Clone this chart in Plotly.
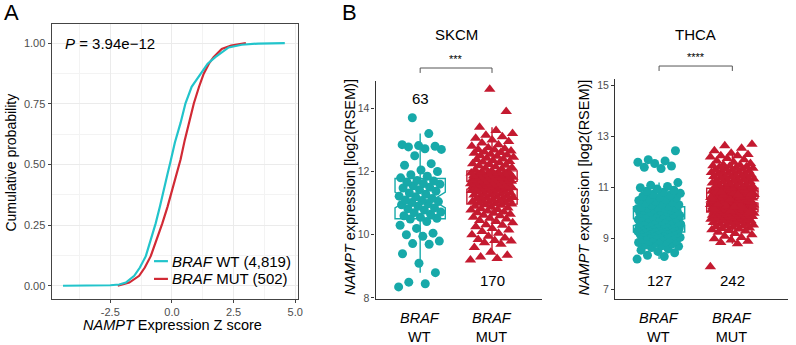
import plotly.graph_objects as go

# ---------------- Panel A: ECDF readings ----------------
wt_z = [-4.42, -3.0, -2.5, -2.14, -1.87, -1.53, -1.3, -1.06, -0.86, -0.66, -0.48, -0.32,
        -0.18, -0.05, 0.12, 0.35, 0.55, 0.8, 1.16, 1.45, 1.76, 2.3, 2.83, 3.5, 4.58]
wt_p = [0.0, 0.0, 0.002, 0.005, 0.013, 0.041, 0.075, 0.122, 0.185, 0.257, 0.33, 0.393,
        0.46, 0.515, 0.59, 0.671, 0.752, 0.82, 0.874, 0.915, 0.942, 0.982, 0.993, 0.998, 1.0]
mut_z = [-2.2, -2.0, -1.73, -1.33, -1.1, -0.86, -0.62, -0.39, -0.18, 0.01, 0.18, 0.35,
         0.52, 0.69, 0.89, 1.1, 1.29, 1.5, 1.69, 2.02, 2.4, 3.0]
mut_p = [0.0, 0.005, 0.013, 0.041, 0.075, 0.122, 0.19, 0.257, 0.325, 0.393, 0.45, 0.52,
         0.6, 0.671, 0.752, 0.82, 0.874, 0.915, 0.942, 0.976, 0.99, 1.0]
a_xticks = [-2.5, 0.0, 2.5, 5.0]
a_xticklabels = ["-2.5", "0.0", "2.5", "5.0"]
a_yticks = [0.0, 0.25, 0.5, 0.75, 1.0]
a_yticklabels = ["0.00", "0.25", "0.50", "0.75", "1.00"]
p_value = "3.94e\u221212"
legend_labels = ["<i>BRAF</i> WT (4,819)", "<i>BRAF</i> MUT (502)"]

# ---------------- Panel B: expression values ----------------
categories = ["WT", "MUT"]
skcm_wt = [8.35, 8.45, 8.5, 8.8, 9.1, 9.4, 9.7, 9.72, 9.8, 9.95, 10.0, 10.05, 10.2, 10.3, 10.42,
           10.5, 10.52, 10.55, 10.6, 10.65, 10.7, 10.72, 10.78, 10.82, 10.85, 10.9, 10.95, 10.98, 11.02, 11.05, 11.08,
           11.1, 11.15, 11.2, 11.22, 11.28, 11.32, 11.38, 11.42, 11.48, 11.5, 11.55, 11.6, 11.62, 11.66, 11.7, 11.72,
           11.8, 11.85, 11.9, 12.0, 12.05, 12.2, 12.25, 12.5, 12.7, 12.72, 12.78, 12.8, 12.82, 12.85, 13.2, 13.7]
skcm_mut = [9.2, 9.25, 9.3, 9.35, 9.45, 9.6, 9.7, 9.75, 9.8, 9.82, 9.85, 9.9, 9.95, 10.0, 10.05,
            10.1, 10.15, 10.2, 10.25, 10.3, 10.32, 10.38, 10.42, 10.45, 10.5, 10.52, 10.55, 10.6, 10.62, 10.65,
            10.68, 10.7, 10.72, 10.75, 10.78, 10.8, 10.82, 10.85, 10.88, 10.9, 10.93, 10.95,
            10.97, 10.98, 11.0, 11.01, 11.03, 11.05, 11.06, 11.08, 11.1, 11.11, 11.13, 11.15, 11.16, 11.18, 11.2,
            11.21, 11.23, 11.25, 11.26, 11.28, 11.3, 11.31, 11.33, 11.35, 11.36, 11.38, 11.4, 11.41, 11.43, 11.44,
            11.45, 11.46, 11.47, 11.48, 11.49, 11.5, 11.51, 11.52, 11.53, 11.54, 11.55, 11.55, 11.56,
            11.57, 11.58, 11.59, 11.6, 11.61, 11.62, 11.63, 11.64, 11.65, 11.66, 11.67, 11.68, 11.69, 11.7, 11.71,
            11.72, 11.73, 11.74, 11.75, 11.76, 11.77, 11.78, 11.79, 11.8, 11.81, 11.82, 11.83, 11.84, 11.85, 11.86,
            11.87, 11.88, 11.89, 11.9, 11.91, 11.92, 11.93, 11.94, 11.95, 11.96, 11.98, 12.0, 12.02,
            12.05, 12.08, 12.1, 12.12, 12.15, 12.18, 12.2, 12.22, 12.25, 12.28, 12.3, 12.32, 12.35, 12.38, 12.4,
            12.42, 12.45, 12.48, 12.5, 12.52, 12.55, 12.58, 12.6, 12.62, 12.65, 12.68, 12.7, 12.72, 12.75, 12.8,
            12.85, 12.9, 12.95, 13.0, 13.05, 13.1, 13.15, 13.2, 13.3, 13.4, 13.9, 14.6]
thca_wt = [8.2, 8.3, 8.35, 8.45, 8.5, 8.55, 8.6, 8.65, 8.7, 8.72, 8.75, 8.8, 8.82, 8.85, 8.88,
           8.9, 8.92, 8.95, 8.98, 9.0, 9.02, 9.05, 9.08, 9.1, 9.12, 9.15, 9.17, 9.19, 9.21, 9.23, 9.25, 9.26,
           9.27, 9.28, 9.3, 9.31, 9.32, 9.34, 9.35, 9.36, 9.38, 9.39, 9.4, 9.42, 9.43, 9.44, 9.46,
           9.47, 9.48, 9.5, 9.51, 9.52, 9.54, 9.55, 9.56, 9.57, 9.58, 9.59, 9.6, 9.61, 9.62, 9.63, 9.64,
           9.65,
           9.67, 9.69, 9.71, 9.73, 9.75, 9.77, 9.79, 9.81, 9.83, 9.85, 9.87, 9.89, 9.91, 9.93, 9.95,
           9.97, 9.99, 10.01, 10.03, 10.05, 10.07, 10.09, 10.11, 10.13, 10.15, 10.17, 10.19, 10.2, 10.21, 10.22, 10.23,
           10.26, 10.3, 10.33, 10.36, 10.4, 10.43, 10.46, 10.5, 10.53, 10.56, 10.6, 10.63, 10.66, 10.7, 10.74,
           10.78, 10.82, 10.86, 10.9, 10.95, 11.0, 11.05, 11.1, 11.2, 11.75, 11.8, 11.85, 11.95, 12.0, 12.05,
           12.1, 12.45]
thca_mut = [7.9, 8.8, 8.85, 8.9, 8.95, 9.0, 9.05, 9.1, 9.15, 9.2, 9.25, 9.3, 9.32, 9.35, 9.38,
            9.4, 9.42, 9.45, 9.47, 9.5, 9.52, 9.54, 9.56, 9.58, 9.6, 9.62, 9.64, 9.66, 9.68, 9.7,
            9.71, 9.72, 9.74, 9.75, 9.76, 9.78, 9.79, 9.8, 9.82, 9.83, 9.84, 9.86, 9.87, 9.88, 9.89,
            9.9, 9.91, 9.92, 9.93, 9.94, 9.95, 9.96, 9.97, 9.98, 9.99, 10.0, 10.01, 10.02, 10.03, 10.04,
            10.05, 10.06, 10.07, 10.08, 10.09, 10.1, 10.11, 10.12, 10.13, 10.14, 10.15, 10.16, 10.17, 10.18, 10.19,
            10.2, 10.21, 10.22, 10.23, 10.24, 10.25, 10.26, 10.27, 10.28, 10.29, 10.3, 10.31, 10.32, 10.33, 10.34,
            10.35, 10.36, 10.37, 10.38, 10.39, 10.4, 10.41, 10.42, 10.43, 10.44, 10.45, 10.46, 10.47, 10.48, 10.49,
            10.07, 10.12, 10.17, 10.22, 10.27, 10.32, 10.37, 10.42, 10.47, 10.1, 10.2, 10.3, 10.4, 10.45, 10.25, 10.35,
            10.5, 10.51, 10.52, 10.53, 10.54, 10.55, 10.56, 10.57, 10.58, 10.59, 10.6, 10.61, 10.62, 10.63, 10.64,
            10.65, 10.66, 10.67, 10.68, 10.69, 10.7, 10.71, 10.72, 10.73, 10.74, 10.75, 10.76, 10.77, 10.78, 10.79,
            10.8, 10.81, 10.82, 10.83, 10.84, 10.85, 10.86, 10.87, 10.88, 10.89, 10.9, 10.91, 10.92, 10.93, 10.94,
            10.95, 10.96, 10.97, 10.55, 10.6, 10.65, 10.7, 10.75, 10.8, 10.85, 10.9, 10.95, 10.62, 10.72, 10.82,
            10.98, 11.0, 11.02, 11.04, 11.06, 11.08, 11.1, 11.12, 11.14, 11.16, 11.18, 11.2, 11.22, 11.24, 11.26,
            11.28, 11.3, 11.32, 11.34, 11.36, 11.38, 11.4, 11.42, 11.44, 11.46, 11.48, 11.5, 11.52, 11.54, 11.56,
            11.58, 11.6, 11.62, 11.64, 11.66, 11.68, 11.7, 11.72, 11.74, 11.76, 11.78, 11.8, 11.82, 11.84, 11.86,
            11.88, 11.9, 11.95, 12.0, 12.05, 12.1, 12.15, 12.2, 12.25, 12.25, 12.3, 12.35, 12.45, 12.55, 12.65, 12.7]
skcm_counts = ["63", "170"]
thca_counts = ["127", "242"]
skcm_sig = "***"
thca_sig = "****"
skcm_yticks = [8, 10, 12, 14]
thca_yticks = [7, 9, 11, 13, 15]

# ---------------- style ----------------
CYAN = "#22C4CB"
RED_LINE = "#D12A35"
TEAL = "#17A9A9"
RED = "#C41A30"
FONT = "Liberation Sans, Arial, sans-serif"
TICK = "#4D4D4D"
W, H = 796, 345


def px(x):
    return x / W


def py(y):
    return (H - y) / H


def jitter(n, width=0.6):
    return [((i * 0.6180339887) % 1.0 - 0.5) * width for i in range(n)]


def txt(text, x, y, xref="paper", size=15, xanchor="center", yanchor="middle", **kw):
    return dict(text=text, x=x, y=y, xref=xref, yref="paper", xanchor=xanchor, yanchor=yanchor,
                showarrow=False, font=dict(size=size, family=FONT, color="black"), **kw)


fig = go.Figure()

# Panel A curves
fig.add_trace(go.Scatter(x=mut_z, y=mut_p, mode="lines", line=dict(color=RED_LINE, width=2.2),
                         xaxis="x", yaxis="y", showlegend=False))
fig.add_trace(go.Scatter(x=wt_z, y=wt_p, mode="lines", line=dict(color=CYAN, width=2.2),
                         xaxis="x", yaxis="y", showlegend=False))

# Panel B boxes + points
panels = [("x2", "y2", skcm_wt, skcm_mut), ("x3", "y3", thca_wt, thca_mut)]
for xa, ya, wt, mut in panels:
    for idx, (vals, col, sym, sz) in enumerate([(wt, TEAL, "circle", 9), (mut, RED, "triangle-up", 10)]):
        fig.add_trace(go.Box(x=[idx] * len(vals), y=vals, xaxis=xa, yaxis=ya, notched=True,
                             notchwidth=0.25, width=0.7, boxpoints="outliers", whiskerwidth=0,
                             marker=dict(opacity=0, size=1),
                             line=dict(color=col, width=1.4), fillcolor="rgba(255,255,255,0)",
                             showlegend=False))
        jit = jitter(len(vals))
        fig.add_trace(go.Scatter(x=[idx + j for j in jit], y=vals, mode="markers", xaxis=xa, yaxis=ya,
                                 marker=dict(color=col, size=sz, symbol=sym, line=dict(width=0)),
                                 showlegend=False))

ydom = [py(303), py(24)]
grid_common = dict(showgrid=True, gridcolor="#EBEBEB", gridwidth=1, zeroline=False,
                   showline=True, mirror=True, linecolor="#444444", linewidth=1.2,
                   ticks="outside", ticklen=3, tickcolor="#444444",
                   tickfont=dict(family=FONT, size=11, color=TICK))
fig.update_layout(
    width=W, height=H, margin=dict(l=0, r=0, t=0, b=0), autosize=False,
    paper_bgcolor="white", plot_bgcolor="white", font=dict(family=FONT, color="black"),
    xaxis=dict(domain=[px(52), px(300)], range=[-4.88, 5.12], tickvals=a_xticks, ticktext=a_xticklabels,
               minor=dict(dtick=1.25, tick0=-3.75, showgrid=True, gridcolor="#F3F3F3", gridwidth=0.8, ticklen=0),
               anchor="y", **grid_common),
    yaxis=dict(domain=ydom, range=[-0.053, 1.08], tickvals=a_yticks, ticktext=a_yticklabels,
               minor=dict(dtick=0.25, tick0=0.125, showgrid=True, gridcolor="#F3F3F3", gridwidth=0.8, ticklen=0),
               anchor="x", **grid_common),
)

b_axis = dict(showgrid=False, zeroline=False, showline=True, linecolor="#333333", linewidth=1.3,
              ticks="outside", ticklen=3, tickcolor="#333333",
              tickfont=dict(family=FONT, size=10.5, color=TICK))
b_xaxis = {k: v for k, v in b_axis.items() if k not in ("ticks", "ticklen", "tickcolor")}
fig.update_layout(
    xaxis2=dict(domain=[px(378), px(545)], range=[-0.62, 1.69], tickvals=[], anchor="y2", **b_xaxis),
    yaxis2=dict(domain=[py(303), py(82)], range=[7.98, 14.87], tickvals=skcm_yticks, anchor="x2", **b_axis),
    xaxis3=dict(domain=[px(619), px(793)], range=[-0.6, 1.76], tickvals=[], anchor="y3", **b_xaxis),
    yaxis3=dict(domain=[py(303), py(80)], range=[6.65, 15.27], tickvals=thca_yticks, anchor="x3", **b_axis),
)

ann = []
# panel letters
ann.append(txt("A", px(12), py(13), size=22))
ann.append(txt("B", px(352), py(13), size=22))
# Panel A texts
ann.append(txt("<i>P</i> = " + p_value, px(63), py(44), xanchor="left"))
ann.append(txt("Cumulative probability", px(11), py(165), size=14, textangle=-90))
ann.append(txt("<i>NAMPT</i> Expression Z score", px(174), py(330), size=14.5))
shapes = []
for i, (lab, col) in enumerate(zip(legend_labels, [CYAN, RED_LINE])):
    yy = 265 + 18 * i
    shapes.append(dict(type="line", xref="paper", yref="paper", x0=px(155), x1=px(169), y0=py(yy), y1=py(yy),
                       line=dict(color=col, width=2.2)))
    ann.append(txt(lab, px(171), py(yy), xanchor="left"))

# Panel B texts
ytitle = "<i>NAMPT</i> expression [log2(RSEM)]"
for xa, title, counts, count_y, sig, ytx, brk in [
        ("x2", "SKCM", skcm_counts, [100, 285], skcm_sig, 352, 69),
        ("x3", "THCA", thca_counts, [285, 285], thca_sig, 588, 67)]:
    ann.append(txt(title, 0.5, py(35), xref=xa))
    ann.append(txt(sig, 0.5, py(brk - 1), xref=xa, size=11, yanchor="bottom"))
    shapes.append(dict(type="path", xref=xa, yref="paper",
                       path=f"M 0,{py(brk + 5)} L 0,{py(brk)} L 1,{py(brk)} L 1,{py(brk + 5)}",
                       line=dict(color="#555555", width=1)))
    ann.append(txt(ytitle, px(ytx), py(190), size=14.5, textangle=-90))
    for i, cat in enumerate(categories):
        ann.append(txt(counts[i], i, py(count_y[i]), xref=xa))
        ann.append(txt("<i>BRAF</i><br>" + cat, i, py(332.5), xref=xa, size=14.5))

fig.update_layout(annotations=ann, shapes=shapes)
fig.write_html("out.html")
